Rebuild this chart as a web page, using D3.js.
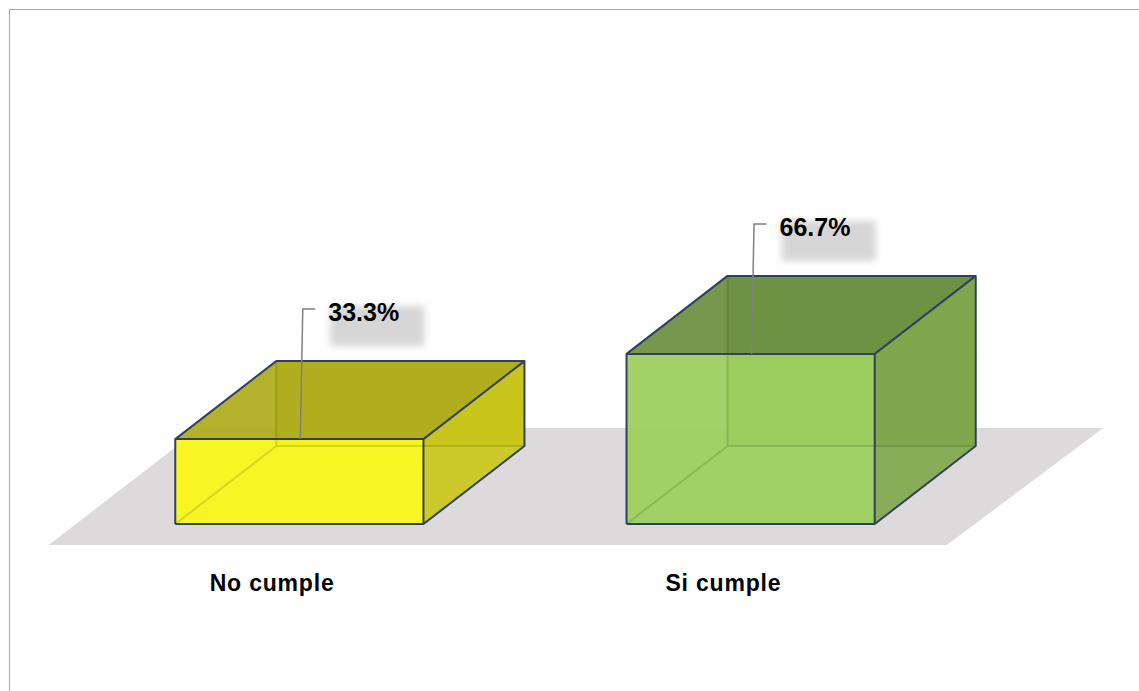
<!DOCTYPE html>
<html>
<head>
<meta charset="utf-8">
<script src="https://cdn.jsdelivr.net/npm/d3@7"></script>
<style>
  body { margin: 0; background: #fff; }
  svg { display: block; }
  .cat-label { font-family: "Liberation Sans", Arial, sans-serif; font-weight: bold; font-size: 23px; letter-spacing: 0.8px; fill: #000; }
  .val-label { font-family: "Liberation Sans", Arial, sans-serif; font-weight: bold; font-size: 25px; fill: #000; }
</style>
</head>
<body>
<div id="chart"></div>
<script>
// data
const categories = ["No cumple", "Si cumple"];
const values = [33.3, 66.7];
const valueLabels = ["33.3%", "66.7%"];

// face colours per bar: front, top, right side
const palette = [
  {front: "#f8f81a", top: "#b0ad1f", side: "#c9c81c"},
  {front: "#9dd05f", top: "#6e9243", side: "#80a94e"}
];

const width = 1139, height = 691;
const baseY = 524;               // bottom of the front faces
const depth = {dx: 101, dy: -78}; // depth vector of the boxes
const floorFront = -0.27, floorBack = 1.23; // floor extent along depth

const svg = d3.select("#chart").append("svg")
  .attr("width", width)
  .attr("height", height);

const defs = svg.append("defs");
defs.append("filter").attr("id", "soft")
  .attr("x", "-30%").attr("y", "-30%").attr("width", "160%").attr("height", "160%")
  .append("feGaussianBlur").attr("stdDeviation", 3.5);

// chart border
svg.append("rect")
  .attr("x", 9.5).attr("y", 9.5)
  .attr("width", width + 10).attr("height", height + 10)
  .attr("fill", "none")
  .attr("stroke", "#a6a6a6")
  .attr("stroke-width", 1);

const x = d3.scaleBand()
  .domain(categories)
  .range([76, 974])
  .paddingInner(0.45)
  .paddingOuter(0.22);

const y = d3.scaleLinear()
  .domain([0, 100])
  .range([baseY, baseY - 255]);

const [x0r, x1r] = x.range();
const line = d3.line();

// floor
svg.append("path")
  .attr("d", line([
    [x0r + depth.dx * floorFront, baseY + depth.dy * floorFront],
    [x1r + depth.dx * floorFront, baseY + depth.dy * floorFront],
    [x1r + depth.dx * floorBack + 5, baseY + depth.dy * floorBack],
    [x0r + depth.dx * floorBack, baseY + depth.dy * floorBack]
  ]) + "Z")
  .attr("fill", "#dcdadb");

const data = categories.map((c, i) => ({cat: c, value: values[i], label: valueLabels[i], col: palette[i]}));

const bars = svg.selectAll(".bar")
  .data(data)
  .join("g")
  .attr("class", "bar");

bars.each(function(d) {
  const g = d3.select(this);
  const xl = x(d.cat), xr = xl + x.bandwidth();
  const yt = y(d.value), yb = y(0);
  const dx = depth.dx, dy = depth.dy;
  const edge = "#2f4060";

  // back face shows through a little
  g.append("path")
    .attr("d", line([[xl + dx, yt + dy], [xr + dx, yt + dy], [xr + dx, yb + dy], [xl + dx, yb + dy]]) + "Z")
    .attr("fill", d.col.top);

  // top
  g.append("path")
    .attr("d", line([[xl, yt], [xr, yt], [xr + dx, yt + dy], [xl + dx, yt + dy]]) + "Z")
    .attr("fill", d.col.top).attr("fill-opacity", 0.95);
  // right side
  g.append("path")
    .attr("d", line([[xr, yt], [xr + dx, yt + dy], [xr + dx, yb + dy], [xr, yb]]) + "Z")
    .attr("fill", d.col.side).attr("fill-opacity", 0.93);
  // front
  g.append("path")
    .attr("d", line([[xl, yt], [xr, yt], [xr, yb], [xl, yb]]) + "Z")
    .attr("fill", d.col.front).attr("fill-opacity", 0.95);

  // hidden edges, faint
  g.append("path")
    .attr("d", line([[xl + dx, yt + dy], [xl + dx, yb + dy], [xr + dx, yb + dy]]) + "M" + (xl + dx) + "," + (yb + dy) + "L" + xl + "," + yb)
    .attr("fill", "none")
    .attr("stroke", "rgba(40,50,20,0.16)")
    .attr("stroke-width", 2);

  // visible edges
  g.append("path")
    .attr("d",
      line([[xl, yb], [xl, yt], [xl + dx, yt + dy], [xr + dx, yt + dy], [xr + dx, yb + dy], [xr, yb], [xl, yb]]) +
      "M" + xl + "," + yt + "L" + xr + "," + yt + "L" + xr + "," + yb +
      "M" + xr + "," + yt + "L" + (xr + dx) + "," + (yt + dy))
    .attr("fill", "none")
    .attr("stroke", edge)
    .attr("stroke-width", 2)
    .attr("stroke-linejoin", "round");

  // value label with leader line
  const lx = xl + 125;
  const base = yt - 118;
  g.append("rect")
    .attr("x", xl + 155).attr("y", base - 15)
    .attr("width", 94).attr("height", 40)
    .attr("fill", "#d6d6d6")
    .attr("filter", "url(#soft)");
  g.append("path")
    .attr("d", line([[lx, yt], [lx + 2.5, base - 12], [lx + 15, base - 12]]))
    .attr("fill", "none")
    .attr("stroke", "#808080")
    .attr("stroke-width", 1.5);
  g.append("text")
    .attr("class", "val-label")
    .attr("x", xl + 153)
    .attr("y", base)
    .text(d.label);
});

// category labels along the floor front edge
svg.selectAll(".cat-label")
  .data(categories)
  .join("text")
  .attr("class", "cat-label")
  .attr("x", d => x(d) + x.bandwidth() / 2 + depth.dx * floorFront)
  .attr("y", 591)
  .attr("text-anchor", "middle")
  .text(d => d);
</script>
</body>
</html>
